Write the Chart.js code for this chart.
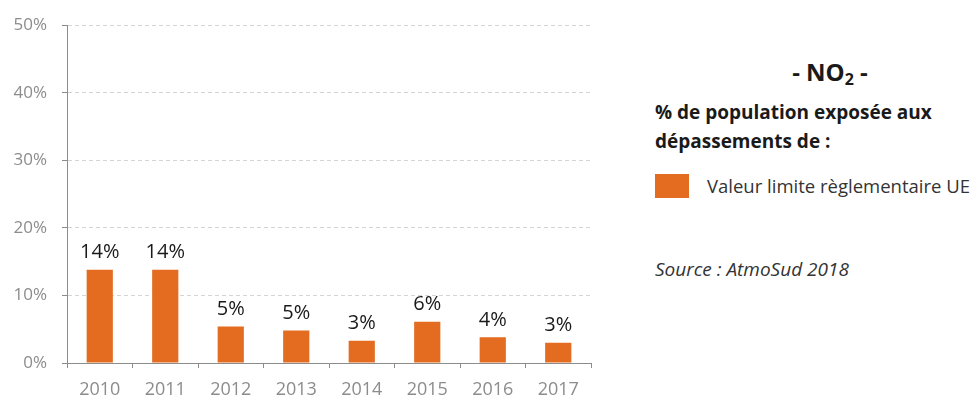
<!DOCTYPE html>
<html lang="fr">
<head>
<meta charset="utf-8">
<script src="https://cdn.jsdelivr.net/npm/chart.js@4/dist/chart.umd.min.js"></script>
<style>
  html, body { margin: 0; padding: 0; background: #fff; }
  body { width: 973px; height: 396px; position: relative; overflow: hidden; font-family: "Open Sans", sans-serif; }
  .chart-container { position: absolute; left: 0; top: 0; width: 600px; height: 396px; }
  .side { position: absolute; left: 655px; top: 0; width: 318px; color: #1a1a1a; }
  .side h1 { position: absolute; left: 0; top: 55px; width: 350px; margin: 0; text-align: center; font-size: 24px; font-weight: 700; line-height: 34px; }
  .side h1 sub { font-size: 16px; vertical-align: -4px; line-height: 0; }
  .side h2 { position: absolute; left: 0; top: 98px; margin: 0; font-size: 19px; font-weight: 700; line-height: 29px; white-space: nowrap; }
  .chart-legend { position: absolute; left: 0; top: 173px; white-space: nowrap; }
  .legend-item { display: flex; align-items: center; }
  .legend-color { width: 34px; height: 24px; margin-right: 18px; }
  .legend-item span { font-size: 18.5px; color: #333; }
  .source { position: absolute; left: 0; top: 256px; font-size: 19px; font-style: italic; color: #333; white-space: nowrap; }
</style>
</head>
<body>
<div class="chart-container"><canvas id="no2-chart"></canvas></div>
<div class="side">
  <h1>- NO<sub>2</sub> -</h1>
  <h2>% de population exposée aux<br>dépassements de :</h2>
  <div class="source">Source : AtmoSud 2018</div>
</div>
<script>
  // Années et part de population exposée (%)
  const years = ['2010', '2011', '2012', '2013', '2014', '2015', '2016', '2017'];
  const exposedShare = [13.8, 13.8, 5.4, 4.8, 3.3, 6.1, 3.8, 3.0];
  const yTicks = [0, 10, 20, 30, 40, 50];
  const seriesLabel = 'Valeur limite règlementaire UE';
  const barColor = '#E36C21';

  // Étiquettes de valeur au-dessus des barres
  const valueLabels = {
    id: 'valueLabels',
    afterDatasetsDraw(chart) {
      const ctx = chart.ctx;
      const meta = chart.getDatasetMeta(0);
      ctx.save();
      ctx.font = '20px "Open Sans"';
      ctx.fillStyle = '#1a1a1a';
      ctx.textAlign = 'center';
      ctx.textBaseline = 'bottom';
      meta.data.forEach((bar, i) => {
        const v = chart.data.datasets[0].data[i];
        ctx.fillText(Math.round(v) + '%', bar.x, bar.y - 7);
      });
      ctx.restore();
    }
  };

  const ctx = document.getElementById('no2-chart').getContext('2d');
  const chart = new Chart(ctx, {
    type: 'bar',
    data: {
      labels: years,
      datasets: [{
        label: seriesLabel,
        data: exposedShare,
        backgroundColor: barColor,
        borderWidth: 0,
        categoryPercentage: 1,
        barPercentage: 0.4
      }]
    },
    options: {
      responsive: true,
      maintainAspectRatio: false,
      animation: false,
      layout: { padding: { top: 20, right: 9, left: 0, bottom: 0 } },
      plugins: {
        legend: { display: false },
        tooltip: { enabled: false }
      },
      scales: {
        x: {
          grid: {
            offset: true,
            drawOnChartArea: false,
            drawTicks: true,
            tickLength: 5,
            tickColor: '#8c8c8c'
          },
          border: { color: '#8c8c8c', width: 1 },
          ticks: {
            color: '#8c8c8c',
            font: { family: 'Open Sans', size: 18 },
            padding: 11,
            maxRotation: 0
          },
          afterFit(scale) { scale.height = 33; }
        },
        y: {
          min: 0,
          max: 50,
          afterBuildTicks(scale) { scale.ticks = yTicks.map(v => ({ value: v })); },
          grid: {
            color: '#d4d4d4',
            tickLength: 5,
            tickColor: '#8c8c8c',
            tickBorderDash: []
          },
          border: { color: '#8c8c8c', width: 1, dash: [4, 3] },
          ticks: {
            color: '#8c8c8c',
            font: { family: 'Open Sans', size: 17 },
            padding: 15,
            callback: v => v + '%'
          },
          afterFit(scale) { scale.width = 67; }
        }
      }
    },
    plugins: [valueLabels]
  });

  // Légende personnalisée
  function createCustomLegend() {
    const legendContainer = document.createElement('div');
    legendContainer.className = 'chart-legend';
    const legendItem = document.createElement('div');
    legendItem.className = 'legend-item';
    const colorBox = document.createElement('div');
    colorBox.className = 'legend-color';
    colorBox.style.backgroundColor = barColor;
    const label = document.createElement('span');
    label.textContent = seriesLabel;
    legendItem.appendChild(colorBox);
    legendItem.appendChild(label);
    legendContainer.appendChild(legendItem);
    document.querySelector('.side').appendChild(legendContainer);
  }

  createCustomLegend();
</script>
</body>
</html>
